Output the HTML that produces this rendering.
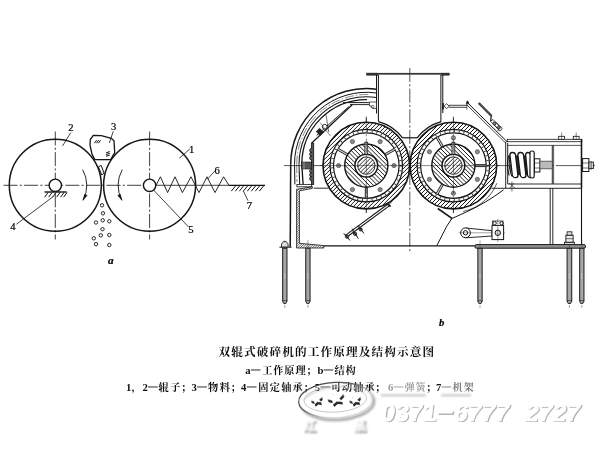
<!DOCTYPE html>
<html><head><meta charset="utf-8"><title>双辊式破碎机的工作原理及结构示意图</title>
<style>html,body{margin:0;padding:0;background:#fff;}body{width:600px;height:450px;overflow:hidden;font-family:"Liberation Serif",serif;}svg{display:block}</style>
</head><body>
<svg width="600" height="450" viewBox="0 0 600 450">
<defs>
<pattern id="h1" width="3" height="3" patternUnits="userSpaceOnUse" patternTransform="rotate(-45)"><rect width="3" height="3" fill="#fff"/><line x1="0" y1="0" x2="3" y2="0" stroke="#1a1a1a" stroke-width="1.5"/></pattern>
<pattern id="h2" width="2.6" height="2.6" patternUnits="userSpaceOnUse" patternTransform="rotate(-45)"><rect width="2.6" height="2.6" fill="#fff"/><line x1="0" y1="0" x2="2.6" y2="0" stroke="#1a1a1a" stroke-width="1.3"/></pattern>
<pattern id="h3" width="2.2" height="2.2" patternUnits="userSpaceOnUse" patternTransform="rotate(-45)"><rect width="2.2" height="2.2" fill="#fff"/><line x1="0" y1="0" x2="2.2" y2="0" stroke="#222" stroke-width="1.0"/></pattern>
<filter id="bl" x="-5%" y="-5%" width="110%" height="110%"><feGaussianBlur stdDeviation="0.35"/></filter>
<filter id="bl3" x="-5%" y="-10%" width="110%" height="120%"><feGaussianBlur stdDeviation="0.5"/></filter>
<filter id="bl2" x="-10%" y="-10%" width="120%" height="120%"><feGaussianBlur stdDeviation="0.8"/></filter>
</defs>
<rect x="0" y="0" width="600" height="450" fill="#fff"/>
<g id="figa" filter="url(#bl)">
<line x1="3.50" y1="185.30" x2="150.00" y2="185.30" stroke="#141414" stroke-width="0.8" stroke-dasharray="14 2.2 2.2 2.2"/>
<line x1="156.00" y1="185.30" x2="229.00" y2="185.30" stroke="#141414" stroke-width="0.8" />
<line x1="55.30" y1="131.50" x2="55.30" y2="239.50" stroke="#141414" stroke-width="0.8" stroke-dasharray="14 2.2 2.2 2.2"/>
<line x1="149.60" y1="131.50" x2="149.60" y2="239.50" stroke="#141414" stroke-width="0.8" stroke-dasharray="14 2.2 2.2 2.2"/>
<circle cx="55.30" cy="185.30" r="46.00" stroke="#141414" stroke-width="1.5" fill="none" />
<circle cx="149.60" cy="185.30" r="46.00" stroke="#141414" stroke-width="1.5" fill="none" />
<circle cx="55.30" cy="185.30" r="6.20" stroke="#141414" stroke-width="1.4" fill="#fff" />
<circle cx="149.60" cy="185.30" r="6.20" stroke="#141414" stroke-width="1.4" fill="#fff" />
<line x1="44.50" y1="192.00" x2="66.70" y2="192.00" stroke="#141414" stroke-width="1.4" />
<line x1="48.00" y1="192.60" x2="44.60" y2="197.20" stroke="#141414" stroke-width="1.0" />
<line x1="52.00" y1="192.60" x2="48.60" y2="197.20" stroke="#141414" stroke-width="1.0" />
<line x1="56.00" y1="192.60" x2="52.60" y2="197.20" stroke="#141414" stroke-width="1.0" />
<line x1="60.00" y1="192.60" x2="56.60" y2="197.20" stroke="#141414" stroke-width="1.0" />
<line x1="64.00" y1="192.60" x2="60.60" y2="197.20" stroke="#141414" stroke-width="1.0" />
<line x1="67.00" y1="192.60" x2="63.60" y2="197.20" stroke="#141414" stroke-width="1.0" />
<path d="M156.00 185.40 L160.40 176.80 L167.60 192.60 L175.00 176.80 L182.40 192.60 L191.00 176.80 L199.00 192.60 L207.00 176.80 L215.00 192.60 L223.60 176.80 L229.00 185.40" stroke="#141414" stroke-width="0.9" fill="none" />
<line x1="229.00" y1="185.40" x2="265.00" y2="185.40" stroke="#141414" stroke-width="1.4" />
<line x1="235.50" y1="186.00" x2="231.30" y2="191.20" stroke="#141414" stroke-width="1.0" />
<line x1="239.50" y1="186.00" x2="235.30" y2="191.20" stroke="#141414" stroke-width="1.0" />
<line x1="243.50" y1="186.00" x2="239.30" y2="191.20" stroke="#141414" stroke-width="1.0" />
<line x1="247.50" y1="186.00" x2="243.30" y2="191.20" stroke="#141414" stroke-width="1.0" />
<line x1="251.50" y1="186.00" x2="247.30" y2="191.20" stroke="#141414" stroke-width="1.0" />
<line x1="255.50" y1="186.00" x2="251.30" y2="191.20" stroke="#141414" stroke-width="1.0" />
<line x1="259.50" y1="186.00" x2="255.30" y2="191.20" stroke="#141414" stroke-width="1.0" />
<line x1="263.50" y1="186.00" x2="259.30" y2="191.20" stroke="#141414" stroke-width="1.0" />
<path d="M93.30 135.30 L90.30 139.50 L90.00 145.30 L92.00 154.00 L94.70 159.60 L110.70 159.60 L114.70 152.70 L114.00 140.70 L111.30 138.30 L101.30 135.60 Z" stroke="#141414" stroke-width="1.3" fill="#fff" />
<line x1="94.40" y1="143.20" x2="96.60" y2="140.20" stroke="#141414" stroke-width="1.0" />
<line x1="96.40" y1="143.20" x2="98.60" y2="140.20" stroke="#141414" stroke-width="1.0" />
<line x1="98.40" y1="143.20" x2="100.60" y2="140.20" stroke="#141414" stroke-width="1.0" />
<line x1="106.00" y1="152.80" x2="109.80" y2="151.60" stroke="#141414" stroke-width="1.0" />
<line x1="106.00" y1="154.50" x2="109.80" y2="153.30" stroke="#141414" stroke-width="1.0" />
<line x1="106.00" y1="156.20" x2="109.80" y2="155.00" stroke="#141414" stroke-width="1.0" />
<path d="M98.40 166.80 L101.20 165.40 L104.00 173.20 L101.80 175.00 Z" stroke="#141414" stroke-width="1.0" fill="#fff" />
<path d="M82.58 169.55 A31.5 31.5 0 0 1 83.11 200.09" stroke="#141414" stroke-width="0.9" fill="none" />
<path d="M82.88 200.53 L84.61 194.09 L87.25 195.49 Z" stroke="#141414" stroke-width="0.3" fill="#141414" />
<path d="M122.32 169.55 A31.5 31.5 0 0 0 121.79 200.09" stroke="#141414" stroke-width="0.9" fill="none" />
<path d="M122.02 200.53 L117.65 195.49 L120.29 194.09 Z" stroke="#141414" stroke-width="0.3" fill="#141414" />
<circle cx="102.00" cy="205.30" r="1.70" stroke="#141414" stroke-width="0.9" fill="none" />
<circle cx="103.00" cy="213.30" r="1.70" stroke="#141414" stroke-width="0.9" fill="none" />
<circle cx="102.70" cy="220.30" r="1.70" stroke="#141414" stroke-width="0.9" fill="none" />
<circle cx="96.00" cy="222.50" r="1.70" stroke="#141414" stroke-width="0.9" fill="none" />
<circle cx="109.30" cy="221.30" r="1.70" stroke="#141414" stroke-width="0.9" fill="none" />
<circle cx="102.50" cy="229.20" r="1.70" stroke="#141414" stroke-width="0.9" fill="none" />
<circle cx="100.80" cy="235.30" r="1.70" stroke="#141414" stroke-width="0.9" fill="none" />
<circle cx="109.30" cy="235.00" r="1.70" stroke="#141414" stroke-width="0.9" fill="none" />
<circle cx="93.80" cy="238.30" r="1.70" stroke="#141414" stroke-width="0.9" fill="none" />
<circle cx="96.00" cy="244.20" r="1.70" stroke="#141414" stroke-width="0.9" fill="none" />
<circle cx="109.30" cy="245.00" r="1.70" stroke="#141414" stroke-width="0.9" fill="none" />
<line x1="70.80" y1="132.60" x2="62.60" y2="145.90" stroke="#141414" stroke-width="0.8" />
<line x1="113.30" y1="131.20" x2="109.30" y2="143.00" stroke="#141414" stroke-width="0.8" />
<line x1="189.80" y1="149.00" x2="179.30" y2="158.30" stroke="#141414" stroke-width="0.8" />
<line x1="214.80" y1="171.00" x2="207.30" y2="179.30" stroke="#141414" stroke-width="0.8" />
<line x1="243.40" y1="191.00" x2="248.00" y2="200.70" stroke="#141414" stroke-width="0.8" />
<line x1="153.50" y1="190.00" x2="188.60" y2="227.00" stroke="#141414" stroke-width="0.8" />
<line x1="53.30" y1="196.50" x2="16.50" y2="224.20" stroke="#141414" stroke-width="0.8" />
<text x="71" y="130.9" font-family="Liberation Serif, serif" font-size="10.6" text-anchor="middle" fill="#000" stroke="#000" stroke-width="0.22" >2</text>
<text x="113.6" y="129.7" font-family="Liberation Serif, serif" font-size="10.6" text-anchor="middle" fill="#000" stroke="#000" stroke-width="0.22" >3</text>
<text x="191.6" y="152.6" font-family="Liberation Serif, serif" font-size="10.6" text-anchor="middle" fill="#000" stroke="#000" stroke-width="0.22" >1</text>
<text x="217.2" y="173.6" font-family="Liberation Serif, serif" font-size="10.6" text-anchor="middle" fill="#000" stroke="#000" stroke-width="0.22" >6</text>
<text x="249.3" y="209.1" font-family="Liberation Serif, serif" font-size="10.6" text-anchor="middle" fill="#000" stroke="#000" stroke-width="0.22" >7</text>
<text x="191" y="233.1" font-family="Liberation Serif, serif" font-size="10.6" text-anchor="middle" fill="#000" stroke="#000" stroke-width="0.22" >5</text>
<text x="12.8" y="229.6" font-family="Liberation Serif, serif" font-size="10.6" text-anchor="middle" fill="#000" stroke="#000" stroke-width="0.22" >4</text>
<text x="110.8" y="264.1" font-family="Liberation Serif, serif" font-size="11.2" text-anchor="middle" fill="#000" stroke="#000" stroke-width="0.22" font-style="italic" font-weight="bold">a</text>
<text x="441.6" y="325.8" font-family="Liberation Serif, serif" font-size="10.6" text-anchor="middle" fill="#000" stroke="#000" stroke-width="0.22" font-style="italic" font-weight="bold">b</text>
</g>
<g id="figb" filter="url(#bl)">
<line x1="284.00" y1="165.60" x2="595.00" y2="165.60" stroke="#141414" stroke-width="0.7" stroke-dasharray="62 2 2 2"/>
<line x1="366.30" y1="116.50" x2="366.30" y2="215.00" stroke="#141414" stroke-width="0.7" stroke-dasharray="14 2.2 2.2 2.2"/>
<line x1="453.40" y1="116.50" x2="453.40" y2="215.00" stroke="#141414" stroke-width="0.7" stroke-dasharray="14 2.2 2.2 2.2"/>
<line x1="409.80" y1="68.00" x2="409.80" y2="253.00" stroke="#141414" stroke-width="0.7" stroke-dasharray="14 2.2 2.2 2.2"/>
<path d="M290.70 164.30 A75.8 75.8 0 0 1 376.40 89.15" stroke="#141414" stroke-width="1.5" fill="none" />
<path d="M294.50 164.30 A72.0 72.0 0 0 1 376.40 92.98" stroke="#141414" stroke-width="1.0" fill="none" />
<line x1="294.50" y1="164.30" x2="294.90" y2="184.40" stroke="#141414" stroke-width="1.0" />
<path d="M296.70 164.30 A69.8 69.8 0 0 1 370.00 94.59" stroke="#141414" stroke-width="0.5" fill="none" stroke-dasharray="9 2 1.6 2"/>
<line x1="296.70" y1="164.30" x2="296.90" y2="182.00" stroke="#141414" stroke-width="0.5" stroke-dasharray="9 2 1.6 2"/>
<path d="M299.00 164.30 A67.5 67.5 0 0 1 376.40 97.53" stroke="#141414" stroke-width="1.05" fill="none" />
<line x1="299.00" y1="164.30" x2="299.70" y2="184.40" stroke="#141414" stroke-width="1.05" />
<path d="M301.80 164.30 A64.7 64.7 0 0 1 367.00 99.60" stroke="#141414" stroke-width="1.3" fill="none" />
<line x1="301.80" y1="164.30" x2="303.10" y2="184.40" stroke="#141414" stroke-width="1.3" />
<line x1="290.70" y1="164.30" x2="290.20" y2="247.00" stroke="#141414" stroke-width="1.5" />
<line x1="343.00" y1="102.60" x2="369.00" y2="102.60" stroke="#141414" stroke-width="1.0" />
<line x1="350.00" y1="104.60" x2="369.00" y2="104.60" stroke="#141414" stroke-width="0.9" />
<line x1="352.20" y1="104.80" x2="311.50" y2="143.20" stroke="#141414" stroke-width="1.2" />
<line x1="348.70" y1="106.70" x2="316.70" y2="135.30" stroke="#141414" stroke-width="0.9" />
<path d="M316.20 131.50 L319.60 128.20 L323.40 132.20 L320.00 135.50 Z" stroke="#141414" stroke-width="0.6" fill="#222" />
<circle cx="324.70" cy="126.80" r="2.40" stroke="#141414" stroke-width="0.9" fill="#fff" />
<line x1="326.00" y1="114.70" x2="328.70" y2="132.00" stroke="#141414" stroke-width="0.6" />
<line x1="320.00" y1="122.50" x2="330.50" y2="136.00" stroke="#141414" stroke-width="0.5" />
<rect x="311.60" y="143.20" width="2.10" height="41.20" stroke="#141414" stroke-width="0.8" fill="#555" />
<path d="M311.6 148.5 a1.9 1.9 0 0 0 0 3.8 a1.9 1.9 0 0 0 0 3.8 a1.9 1.9 0 0 0 0 3.8 M311.6 169.2 a1.9 1.9 0 0 0 0 3.8 a1.9 1.9 0 0 0 0 3.8 a1.9 1.9 0 0 0 0 3.8" stroke="#141414" stroke-width="1.0" fill="#777" />
<rect x="301.80" y="162.00" width="9.80" height="7.00" stroke="#141414" stroke-width="0.6" fill="#555" />
<line x1="304.00" y1="162.00" x2="304.00" y2="169.00" stroke="#ddd" stroke-width="0.5" />
<rect x="296.90" y="184.40" width="14.80" height="2.40" stroke="#141414" stroke-width="0.8" fill="#fff" />
<line x1="313.70" y1="188.20" x2="328.50" y2="188.20" stroke="#141414" stroke-width="0.9" />
<clipPath id="cp1"><path d="M296.60 189.30 L312.30 186.70 L312.30 188.40 L299.40 190.80 L299.40 243.30 L323.80 245.60 L323.80 248.00 L296.60 248.00 Z"/></clipPath>
<path clip-path="url(#cp1)" d="M295.6 187.7L297.6 185.7 M295.6 190.1L300.0 185.7 M295.6 192.5L302.4 185.7 M295.6 194.9L304.8 185.7 M295.6 197.3L307.2 185.7 M295.6 199.7L309.6 185.7 M295.6 202.1L312.0 185.7 M295.6 204.5L314.4 185.7 M295.6 206.9L316.8 185.7 M295.6 209.3L319.2 185.7 M295.6 211.7L321.6 185.7 M295.6 214.1L324.0 185.7 M295.6 216.5L326.4 185.7 M295.6 218.9L328.8 185.7 M295.6 221.3L331.2 185.7 M295.6 223.7L333.6 185.7 M295.6 226.1L336.0 185.7 M295.6 228.5L338.4 185.7 M295.6 230.9L340.8 185.7 M295.6 233.3L343.2 185.7 M295.6 235.7L345.6 185.7 M295.6 238.1L348.0 185.7 M295.6 240.5L350.4 185.7 M295.6 242.9L352.8 185.7 M295.6 245.3L355.2 185.7 M295.6 247.7L357.6 185.7 M295.6 250.1L360.0 185.7 M295.6 252.5L362.4 185.7 M295.6 254.9L364.8 185.7 M295.6 257.3L367.2 185.7 M295.6 259.7L369.6 185.7 M295.6 262.1L372.0 185.7 M295.6 264.5L374.4 185.7 M295.6 266.9L376.8 185.7 M295.6 269.3L379.2 185.7 M295.6 271.7L381.6 185.7 M295.6 274.1L384.0 185.7" stroke="#222" stroke-width="0.7" fill="none"/>
<path d="M296.60 189.30 L312.30 186.70 L312.30 188.40 L299.40 190.80 L299.40 243.30 L323.80 245.60 L323.80 248.00 L296.60 248.00 Z" stroke="#141414" stroke-width="0.8" fill="none" />
<line x1="279.40" y1="247.20" x2="291.60" y2="247.20" stroke="#141414" stroke-width="1.0" />
<line x1="323.80" y1="245.80" x2="475.00" y2="245.80" stroke="#141414" stroke-width="1.2" />
<rect x="475" y="244.6" width="110.4" height="3.6" rx="1.2" fill="#8e8e8e" stroke="#1a1a1a" stroke-width="1.0"/>
<rect x="366.50" y="73.00" width="82.90" height="1.60" stroke="#3a3a3a" stroke-width="0.2" fill="#3a3a3a" />
<rect x="366.50" y="73.00" width="11.50" height="2.50" stroke="#333" stroke-width="0.2" fill="#333" />
<rect x="441.00" y="73.00" width="8.40" height="2.50" stroke="#333" stroke-width="0.2" fill="#333" />
<line x1="376.50" y1="75.00" x2="376.50" y2="113.50" stroke="#141414" stroke-width="1.0" />
<line x1="378.40" y1="75.00" x2="378.40" y2="121.80" stroke="#141414" stroke-width="1.0" />
<line x1="440.90" y1="75.00" x2="440.90" y2="121.80" stroke="#141414" stroke-width="1.0" />
<line x1="442.80" y1="75.00" x2="442.80" y2="113.00" stroke="#141414" stroke-width="1.0" />
<path d="M378.51 121.56 A45.7 45.7 0 0 1 402.56 137.78" stroke="#141414" stroke-width="1.25" fill="none" />
<path d="M441.19 121.56 A45.7 45.7 0 0 0 417.14 137.78" stroke="#141414" stroke-width="1.25" fill="none" />
<line x1="402.40" y1="137.80" x2="417.30" y2="137.80" stroke="#141414" stroke-width="1.2" />
<path d="M369.50 102.00 L376.40 102.00 L376.40 108.50 L372.50 108.50 L371.00 106.00 L369.50 106.00 Z" stroke="#141414" stroke-width="0.7" fill="#fff" />
<circle cx="372.60" cy="106.60" r="1.30" stroke="#141414" stroke-width="0.6" fill="none" />
<path d="M444.00 106.20 L446.60 103.80 L449.30 106.20 L446.60 108.60 Z" stroke="#141414" stroke-width="0.8" fill="#fff" />
<line x1="443.00" y1="103.00" x2="443.00" y2="109.50" stroke="#141414" stroke-width="1.6" />
<line x1="449.00" y1="105.30" x2="468.00" y2="105.30" stroke="#141414" stroke-width="0.8" />
<line x1="449.00" y1="107.30" x2="467.00" y2="107.30" stroke="#141414" stroke-width="0.8" />
<path d="M466.20 103.60 L467.60 100.80 L469.00 103.60 Z" stroke="#141414" stroke-width="0.6" fill="#141414" />
<line x1="468.00" y1="103.20" x2="507.20" y2="141.80" stroke="#141414" stroke-width="1.0" />
<line x1="466.60" y1="104.60" x2="505.60" y2="143.00" stroke="#141414" stroke-width="0.8" />
<line x1="466.80" y1="101.00" x2="466.80" y2="110.00" stroke="#141414" stroke-width="0.5" />
<line x1="478.70" y1="103.00" x2="491.60" y2="116.00" stroke="#222" stroke-width="2.3" />
<line x1="478.90" y1="103.20" x2="491.40" y2="115.80" stroke="#bbb" stroke-width="0.5" />
<line x1="491.30" y1="116.00" x2="490.70" y2="121.00" stroke="#141414" stroke-width="1.2" />
<path d="M490.50 121.20 L493.00 119.50 L502.30 128.80 L500.00 131.20 Z" stroke="#141414" stroke-width="0.8" fill="#fff" />
<circle cx="494.40" cy="123.40" r="1.50" stroke="#141414" stroke-width="0.9" fill="#999" />
<line x1="496.20" y1="122.60" x2="500.20" y2="126.80" stroke="#141414" stroke-width="1.0" />
<line x1="494.60" y1="125.20" x2="498.40" y2="129.20" stroke="#141414" stroke-width="1.0" />
<circle cx="498.60" cy="127.60" r="1.20" stroke="#141414" stroke-width="0.8" fill="#888" />
<line x1="497.00" y1="131.50" x2="502.00" y2="126.50" stroke="#141414" stroke-width="0.6" />
<line x1="505.70" y1="141.70" x2="505.70" y2="188.30" stroke="#141414" stroke-width="0.9" />
<line x1="507.70" y1="143.00" x2="507.70" y2="184.00" stroke="#141414" stroke-width="0.9" />
<rect x="507.30" y="139.30" width="74.50" height="2.40" stroke="#141414" stroke-width="0.8" fill="#fff" />
<line x1="507.70" y1="145.40" x2="581.00" y2="145.40" stroke="#141414" stroke-width="0.7" />
<line x1="507.70" y1="184.00" x2="581.00" y2="184.00" stroke="#141414" stroke-width="0.9" />
<line x1="491.50" y1="188.30" x2="582.00" y2="188.30" stroke="#141414" stroke-width="0.9" />
<line x1="581.50" y1="139.30" x2="581.50" y2="188.30" stroke="#141414" stroke-width="1.6" />
<line x1="581.50" y1="188.30" x2="581.50" y2="244.60" stroke="#141414" stroke-width="1.1" />
<line x1="552.30" y1="145.40" x2="552.30" y2="183.80" stroke="#141414" stroke-width="0.9" />
<line x1="553.60" y1="145.40" x2="553.60" y2="183.80" stroke="#141414" stroke-width="0.7" />
<line x1="550.20" y1="188.30" x2="550.20" y2="244.20" stroke="#141414" stroke-width="0.9" />
<line x1="552.80" y1="188.30" x2="552.80" y2="244.20" stroke="#141414" stroke-width="0.9" />
<line x1="511.90" y1="181.50" x2="511.90" y2="191.50" stroke="#141414" stroke-width="0.6" />
<line x1="509.00" y1="183.00" x2="515.50" y2="188.50" stroke="#141414" stroke-width="0.6" />
<line x1="509.50" y1="188.50" x2="514.00" y2="183.00" stroke="#141414" stroke-width="0.5" />
<rect x="558.70" y="136.30" width="5.80" height="3.00" stroke="#141414" stroke-width="0.8" fill="#fff" />
<line x1="561.60" y1="132.50" x2="561.60" y2="139.30" stroke="#141414" stroke-width="0.5" />
<rect x="573.30" y="136.30" width="5.80" height="3.00" stroke="#141414" stroke-width="0.8" fill="#fff" />
<line x1="576.20" y1="132.50" x2="576.20" y2="139.30" stroke="#141414" stroke-width="0.5" />
<rect transform="translate(512.50 155.50) skewX(8.75)" x="0" y="0" width="16" height="19.50" rx="2.6" ry="2.6" fill="#2a2a2a" stroke="#141414" stroke-width="0.2"/>
<path d="M508.6 155.5 q-2.6 9.5 0.6 20" stroke="#141414" stroke-width="1.1" fill="none" />
<path d="M510.2 154.5 q-2.8 10 1.6 22" stroke="#141414" stroke-width="1.0" fill="none" />
<path d="M509 159 q2.4 6 1.4 13" stroke="#141414" stroke-width="0.7" fill="none" />
<rect transform="translate(509.60 152.50) skewX(6.82)" x="0" y="0" width="5.6" height="25.10" rx="2.6" ry="2.6" fill="#fff" stroke="#141414" stroke-width="1.3"/>
<rect transform="translate(517.60 152.50) skewX(6.82)" x="0" y="0" width="5.6" height="25.10" rx="2.6" ry="2.6" fill="#fff" stroke="#141414" stroke-width="1.3"/>
<rect transform="translate(525.40 152.50) skewX(5.46)" x="0" y="0" width="5.0" height="25.10" rx="2.6" ry="2.6" fill="#fff" stroke="#141414" stroke-width="1.3"/>
<rect x="530" y="151" width="4.2" height="27" rx="1.8" ry="1.8" fill="#fff" stroke="#141414" stroke-width="1.2"/>
<rect x="534.50" y="158.80" width="5.40" height="13.20" stroke="#141414" stroke-width="1.0" fill="#fff" />
<line x1="534.50" y1="163.00" x2="539.90" y2="163.00" stroke="#141414" stroke-width="0.6" />
<line x1="534.50" y1="168.00" x2="539.90" y2="168.00" stroke="#141414" stroke-width="0.6" />
<rect x="539.90" y="161.20" width="12.40" height="7.60" stroke="#444" stroke-width="0.8" fill="#bbb" />
<rect x="582.60" y="158.60" width="6.30" height="12.90" stroke="#141414" stroke-width="1.0" fill="#fff" />
<line x1="582.60" y1="163.00" x2="588.90" y2="163.00" stroke="#141414" stroke-width="0.6" />
<line x1="582.60" y1="168.00" x2="588.90" y2="168.00" stroke="#141414" stroke-width="0.6" />
<rect x="588.90" y="162.00" width="4.60" height="6.60" stroke="#141414" stroke-width="0.8" fill="#ccc" />
<line x1="591.20" y1="161.00" x2="591.20" y2="170.00" stroke="#141414" stroke-width="0.5" />
<path d="M503.6 189.8 Q486 203 466.3 212 T452 218.3 L446.7 226.3 L436.9 245.5" stroke="#141414" stroke-width="1.0" fill="none" />
<line x1="437.80" y1="208.50" x2="452.00" y2="218.30" stroke="#141414" stroke-width="1.6" />
<path d="M496.88 183.17 A46.9 46.9 0 0 1 463.15 211.48" stroke="#141414" stroke-width="0.7" fill="none" />
<line x1="388.40" y1="203.80" x2="345.40" y2="235.40" stroke="#141414" stroke-width="1.1" />
<line x1="389.60" y1="205.60" x2="346.60" y2="237.20" stroke="#141414" stroke-width="1.1" />
<line x1="400.00" y1="191.70" x2="388.50" y2="205.20" stroke="#141414" stroke-width="0.9" />
<line x1="386.80" y1="203.00" x2="390.60" y2="206.60" stroke="#141414" stroke-width="1.6" />
<circle cx="347.00" cy="236.60" r="1.60" stroke="#141414" stroke-width="0.9" fill="#888" />
<line x1="344.50" y1="233.60" x2="349.50" y2="239.60" stroke="#141414" stroke-width="0.7" />
<circle cx="355.00" cy="233.80" r="1.60" stroke="#141414" stroke-width="0.9" fill="#888" />
<line x1="352.50" y1="230.80" x2="357.50" y2="236.80" stroke="#141414" stroke-width="0.7" />
<circle cx="360.60" cy="229.40" r="1.60" stroke="#141414" stroke-width="0.9" fill="#888" />
<line x1="358.10" y1="226.40" x2="363.10" y2="232.40" stroke="#141414" stroke-width="0.7" />
<line x1="343.50" y1="233.50" x2="350.00" y2="240.50" stroke="#141414" stroke-width="0.8" />
<line x1="352.00" y1="228.50" x2="358.50" y2="239.00" stroke="#141414" stroke-width="0.8" />
<line x1="358.00" y1="225.00" x2="364.00" y2="233.50" stroke="#141414" stroke-width="0.8" />
<path d="M465.90 228.00 L492.00 230.70 L492.00 236.00 L465.90 237.80 Z" stroke="#141414" stroke-width="0.9" fill="#fff" />
<circle cx="465.50" cy="232.80" r="4.90" stroke="#141414" stroke-width="1.0" fill="#fff" />
<circle cx="465.50" cy="232.80" r="2.20" stroke="#141414" stroke-width="1.0" fill="#fff" />
<line x1="459.00" y1="232.80" x2="505.00" y2="232.80" stroke="#141414" stroke-width="0.4" />
<rect x="492.00" y="225.40" width="11.60" height="14.20" stroke="#141414" stroke-width="1.0" fill="#fff" />
<circle cx="497.80" cy="232.80" r="2.70" stroke="#141414" stroke-width="1.0" fill="#ddd" />
<rect x="492.60" y="221.00" width="10.40" height="4.40" stroke="#141414" stroke-width="0.7" fill="#fff" />
<circle cx="494.60" cy="223.20" r="1.70" stroke="#141414" stroke-width="0.9" fill="none" />
<circle cx="501.60" cy="223.20" r="1.70" stroke="#141414" stroke-width="0.9" fill="none" />
<line x1="497.80" y1="219.00" x2="497.80" y2="242.00" stroke="#141414" stroke-width="0.4" />
<circle cx="366.30" cy="165.60" r="43.40" stroke="none" stroke-width="0.1" fill="#fff" />
<path d="M329.8 142.1L342.8 129.1 M325.7 150.2L350.9 125.0 M324.0 155.9L356.6 123.3 M323.2 160.7L333.2 150.7 M351.4 132.5L361.4 122.5 M322.9 165.0L331.1 156.8 M357.5 130.4L365.7 122.2 M323.0 168.9L330.2 161.7 M362.4 129.5L369.6 122.3 M323.4 172.5L330.0 165.9 M366.6 129.3L373.2 122.7 M324.1 175.8L330.2 169.7 M370.4 129.5L376.5 123.4 M325.0 178.9L330.8 173.1 M373.8 130.1L379.6 124.3 M326.1 181.8L331.6 176.3 M377.0 130.9L382.5 125.4 M327.3 184.6L332.7 179.2 M379.9 132.0L385.3 126.6 M328.7 187.2L333.9 182.0 M382.7 133.2L387.9 128.0 M330.2 189.7L335.3 184.6 M385.3 134.6L390.4 129.5 M331.9 192.0L336.9 187.0 M387.7 136.2L392.7 131.2 M333.7 194.2L338.7 189.2 M389.9 138.0L394.9 133.0 M335.6 196.3L340.6 191.3 M392.0 139.9L397.0 134.9 M337.7 198.2L342.7 193.2 M393.9 142.0L398.9 137.0 M339.9 200.0L344.9 195.0 M395.7 144.2L400.7 139.2 M342.2 201.7L347.3 196.6 M397.3 146.6L402.4 141.5 M344.7 203.2L349.9 198.0 M398.7 149.2L403.9 144.0 M347.3 204.6L352.7 199.2 M399.9 152.0L405.3 146.6 M350.1 205.8L355.6 200.3 M401.0 154.9L406.5 149.4 M353.0 206.9L358.8 201.1 M401.8 158.1L407.6 152.3 M356.1 207.8L362.2 201.7 M402.4 161.5L408.5 155.4 M359.4 208.5L366.0 201.9 M402.6 165.3L409.2 158.7 M363.0 208.9L370.2 201.7 M402.4 169.5L409.6 162.3 M366.9 209.0L375.1 200.8 M401.5 174.4L409.7 166.2 M371.2 208.7L381.2 198.7 M399.4 180.5L409.4 170.5 M376.0 207.9L408.6 175.3 M381.7 206.2L406.9 181.0 M389.8 202.1L402.8 189.1" stroke="#1c1c1c" stroke-width="1.0" fill="none" />
<circle cx="366.30" cy="165.60" r="43.30" stroke="#141414" stroke-width="1.6" fill="none" />
<circle cx="366.30" cy="165.60" r="36.30" stroke="#141414" stroke-width="1.2" fill="none" />
<circle cx="366.30" cy="165.60" r="34.55" stroke="#2a2a2a" stroke-width="2.2" fill="none" stroke-dasharray="0.9 3.9"/>
<circle cx="366.30" cy="165.60" r="32.80" stroke="#141414" stroke-width="1.2" fill="none" />
<line x1="385.01" y1="154.80" x2="394.53" y2="149.30" stroke="#cfcfcf" stroke-width="2.2" />
<line x1="385.51" y1="155.67" x2="395.03" y2="150.17" stroke="#141414" stroke-width="0.9" />
<line x1="384.51" y1="153.93" x2="394.03" y2="148.43" stroke="#141414" stroke-width="0.9" />
<line x1="347.59" y1="154.80" x2="338.07" y2="149.30" stroke="#cfcfcf" stroke-width="2.2" />
<line x1="348.09" y1="153.93" x2="338.57" y2="148.43" stroke="#141414" stroke-width="0.9" />
<line x1="347.09" y1="155.67" x2="337.57" y2="150.17" stroke="#141414" stroke-width="0.9" />
<line x1="366.30" y1="187.20" x2="366.30" y2="198.20" stroke="#cfcfcf" stroke-width="2.2" />
<line x1="365.30" y1="187.20" x2="365.30" y2="198.20" stroke="#141414" stroke-width="0.9" />
<line x1="367.30" y1="187.20" x2="367.30" y2="198.20" stroke="#141414" stroke-width="0.9" />
<circle cx="394.00" cy="165.60" r="2.10" stroke="#555" stroke-width="0.8" fill="#8c8c8c" />
<circle cx="380.15" cy="141.61" r="2.10" stroke="#555" stroke-width="0.8" fill="#8c8c8c" />
<circle cx="352.45" cy="141.61" r="2.10" stroke="#555" stroke-width="0.8" fill="#8c8c8c" />
<circle cx="338.60" cy="165.60" r="2.10" stroke="#555" stroke-width="0.8" fill="#8c8c8c" />
<circle cx="352.45" cy="189.59" r="2.10" stroke="#555" stroke-width="0.8" fill="#8c8c8c" />
<circle cx="380.15" cy="189.59" r="2.10" stroke="#555" stroke-width="0.8" fill="#8c8c8c" />
<circle cx="366.30" cy="165.60" r="21.60" stroke="none" stroke-width="0.1" fill="#fff" />
<path d="M347.5 176.2L355.7 184.4 M345.1 169.6L362.3 186.8 M344.7 165.0L366.9 187.2 M345.1 161.2L370.7 186.8 M346.1 158.0L355.0 166.9 M365.0 176.9L373.9 185.8 M347.4 155.1L355.2 162.9 M369.0 176.7L376.8 184.5 M349.1 152.6L356.4 159.9 M372.0 175.5L379.3 182.8 M351.0 150.3L358.2 157.5 M374.4 173.7L381.6 180.9 M353.3 148.4L360.6 155.7 M376.2 171.3L383.5 178.6 M355.8 146.7L363.6 154.5 M377.4 168.3L385.2 176.1 M358.7 145.4L367.6 154.3 M377.6 164.3L386.5 173.2 M361.9 144.4L387.5 170.0 M365.7 144.0L387.9 166.2 M370.3 144.4L387.5 161.6 M376.9 146.8L385.1 155.0" stroke="#1c1c1c" stroke-width="1.0" fill="none" />
<circle cx="366.30" cy="165.60" r="21.60" stroke="#141414" stroke-width="1.4" fill="none" />
<circle cx="366.30" cy="165.60" r="11.40" stroke="#141414" stroke-width="1.5" fill="#fff" />
<path d="M358.2 162.5L363.2 157.5 M357.7 167.0L367.7 157.0 M358.8 169.9L370.6 158.1 M360.6 172.1L372.8 159.9 M363.0 173.7L374.4 162.3 M366.4 174.3L375.0 165.7" stroke="#1c1c1c" stroke-width="0.95" fill="none" />
<circle cx="366.30" cy="165.60" r="8.70" stroke="#141414" stroke-width="0.9" fill="none" />
<rect x="364.90" y="142.20" width="2.80" height="12.00" stroke="#141414" stroke-width="0.8" fill="#ddd" />
<line x1="364.90" y1="144.30" x2="367.70" y2="144.30" stroke="#141414" stroke-width="0.6" />
<circle cx="453.40" cy="165.60" r="43.40" stroke="none" stroke-width="0.1" fill="#fff" />
<path d="M416.9 142.1L429.9 129.1 M412.8 150.2L438.0 125.0 M411.1 155.9L443.7 123.3 M410.3 160.7L420.3 150.7 M438.5 132.5L448.5 122.5 M410.0 165.0L418.2 156.8 M444.6 130.4L452.8 122.2 M410.1 168.9L417.3 161.7 M449.5 129.5L456.7 122.3 M410.5 172.5L417.1 165.9 M453.7 129.3L460.3 122.7 M411.2 175.8L417.3 169.7 M457.5 129.5L463.6 123.4 M412.1 178.9L417.9 173.1 M460.9 130.1L466.7 124.3 M413.2 181.8L418.7 176.3 M464.1 130.9L469.6 125.4 M414.4 184.6L419.8 179.2 M467.0 132.0L472.4 126.6 M415.8 187.2L421.0 182.0 M469.8 133.2L475.0 128.0 M417.3 189.7L422.4 184.6 M472.4 134.6L477.5 129.5 M419.0 192.0L424.0 187.0 M474.8 136.2L479.8 131.2 M420.8 194.2L425.8 189.2 M477.0 138.0L482.0 133.0 M422.7 196.3L427.7 191.3 M479.1 139.9L484.1 134.9 M424.8 198.2L429.8 193.2 M481.0 142.0L486.0 137.0 M427.0 200.0L432.0 195.0 M482.8 144.2L487.8 139.2 M429.3 201.7L434.4 196.6 M484.4 146.6L489.5 141.5 M431.8 203.2L437.0 198.0 M485.8 149.2L491.0 144.0 M434.4 204.6L439.8 199.2 M487.0 152.0L492.4 146.6 M437.2 205.8L442.7 200.3 M488.1 154.9L493.6 149.4 M440.1 206.9L445.9 201.1 M488.9 158.1L494.7 152.3 M443.2 207.8L449.3 201.7 M489.5 161.5L495.6 155.4 M446.5 208.5L453.1 201.9 M489.7 165.3L496.3 158.7 M450.1 208.9L457.3 201.7 M489.5 169.5L496.7 162.3 M454.0 209.0L462.2 200.8 M488.6 174.4L496.8 166.2 M458.3 208.7L468.3 198.7 M486.5 180.5L496.5 170.5 M463.1 207.9L495.7 175.3 M468.8 206.2L494.0 181.0 M476.9 202.1L489.9 189.1" stroke="#1c1c1c" stroke-width="1.0" fill="none" />
<circle cx="453.40" cy="165.60" r="43.30" stroke="#141414" stroke-width="1.6" fill="none" />
<circle cx="453.40" cy="165.60" r="36.30" stroke="#141414" stroke-width="1.2" fill="none" />
<circle cx="453.40" cy="165.60" r="34.55" stroke="#2a2a2a" stroke-width="2.2" fill="none" stroke-dasharray="0.9 3.9"/>
<circle cx="453.40" cy="165.60" r="32.80" stroke="#141414" stroke-width="1.2" fill="none" />
<line x1="475.00" y1="165.60" x2="486.00" y2="165.60" stroke="#cfcfcf" stroke-width="2.2" />
<line x1="475.00" y1="166.60" x2="486.00" y2="166.60" stroke="#141414" stroke-width="0.9" />
<line x1="475.00" y1="164.60" x2="486.00" y2="164.60" stroke="#141414" stroke-width="0.9" />
<line x1="442.60" y1="146.89" x2="437.10" y2="137.37" stroke="#cfcfcf" stroke-width="2.2" />
<line x1="443.47" y1="146.39" x2="437.97" y2="136.87" stroke="#141414" stroke-width="0.9" />
<line x1="441.73" y1="147.39" x2="436.23" y2="137.87" stroke="#141414" stroke-width="0.9" />
<line x1="442.60" y1="184.31" x2="437.10" y2="193.83" stroke="#cfcfcf" stroke-width="2.2" />
<line x1="441.73" y1="183.81" x2="436.23" y2="193.33" stroke="#141414" stroke-width="0.9" />
<line x1="443.47" y1="184.81" x2="437.97" y2="194.33" stroke="#141414" stroke-width="0.9" />
<circle cx="477.39" cy="151.75" r="2.10" stroke="#555" stroke-width="0.8" fill="#8c8c8c" />
<circle cx="453.40" cy="137.90" r="2.10" stroke="#555" stroke-width="0.8" fill="#8c8c8c" />
<circle cx="429.41" cy="151.75" r="2.10" stroke="#555" stroke-width="0.8" fill="#8c8c8c" />
<circle cx="429.41" cy="179.45" r="2.10" stroke="#555" stroke-width="0.8" fill="#8c8c8c" />
<circle cx="453.40" cy="193.30" r="2.10" stroke="#555" stroke-width="0.8" fill="#8c8c8c" />
<circle cx="477.39" cy="179.45" r="2.10" stroke="#555" stroke-width="0.8" fill="#8c8c8c" />
<circle cx="453.40" cy="165.60" r="21.60" stroke="none" stroke-width="0.1" fill="#fff" />
<path d="M434.6 176.2L442.8 184.4 M432.2 169.6L449.4 186.8 M431.8 165.0L454.0 187.2 M432.2 161.2L457.8 186.8 M433.2 158.0L442.1 166.9 M452.1 176.9L461.0 185.8 M434.5 155.1L442.3 162.9 M456.1 176.7L463.9 184.5 M436.2 152.6L443.5 159.9 M459.1 175.5L466.4 182.8 M438.1 150.3L445.3 157.5 M461.5 173.7L468.7 180.9 M440.4 148.4L447.7 155.7 M463.3 171.3L470.6 178.6 M442.9 146.7L450.7 154.5 M464.5 168.3L472.3 176.1 M445.8 145.4L454.7 154.3 M464.7 164.3L473.6 173.2 M449.0 144.4L474.6 170.0 M452.8 144.0L475.0 166.2 M457.4 144.4L474.6 161.6 M464.0 146.8L472.2 155.0" stroke="#1c1c1c" stroke-width="1.0" fill="none" />
<circle cx="453.40" cy="165.60" r="21.60" stroke="#141414" stroke-width="1.4" fill="none" />
<circle cx="453.40" cy="165.60" r="11.40" stroke="#141414" stroke-width="1.5" fill="#fff" />
<path d="M445.3 162.5L450.3 157.5 M444.8 167.0L454.8 157.0 M445.9 169.9L457.7 158.1 M447.7 172.1L459.9 159.9 M450.1 173.7L461.5 162.3 M453.5 174.3L462.1 165.7" stroke="#1c1c1c" stroke-width="0.95" fill="none" />
<circle cx="453.40" cy="165.60" r="8.70" stroke="#141414" stroke-width="0.9" fill="none" />
<rect x="452.00" y="142.20" width="2.80" height="12.00" stroke="#141414" stroke-width="0.8" fill="#ddd" />
<line x1="452.00" y1="144.30" x2="454.80" y2="144.30" stroke="#141414" stroke-width="0.6" />
<line x1="320.30" y1="165.60" x2="499.40" y2="165.60" stroke="#141414" stroke-width="0.5" stroke-dasharray="62 2 2 2"/>
<line x1="366.30" y1="118.00" x2="366.30" y2="213.00" stroke="#141414" stroke-width="0.5" stroke-dasharray="14 2.2 2.2 2.2"/>
<line x1="453.40" y1="118.00" x2="453.40" y2="213.00" stroke="#141414" stroke-width="0.5" stroke-dasharray="14 2.2 2.2 2.2"/>
<rect x="282.65" y="248.30" width="4.30" height="52.60" stroke="#2a2a2a" stroke-width="1.1" fill="#a6a6a6" />
<path d="M282.65 300.90 L283.65 303.40 L285.95 303.40 L286.95 300.90" stroke="#2a2a2a" stroke-width="1.0" fill="#a6a6a6" />
<line x1="284.80" y1="240.30" x2="284.80" y2="247.30" stroke="#444" stroke-width="0.5" />
<line x1="284.80" y1="304.90" x2="284.80" y2="307.90" stroke="#444" stroke-width="0.5" />
<line x1="284.80" y1="273.65" x2="284.80" y2="275.25" stroke="#eee" stroke-width="0.7" />
<line x1="284.80" y1="276.45" x2="284.80" y2="278.05" stroke="#eee" stroke-width="0.7" />
<rect x="305.75" y="248.30" width="4.30" height="52.60" stroke="#2a2a2a" stroke-width="1.1" fill="#a6a6a6" />
<path d="M305.75 300.90 L306.75 303.40 L309.05 303.40 L310.05 300.90" stroke="#2a2a2a" stroke-width="1.0" fill="#a6a6a6" />
<line x1="307.90" y1="240.30" x2="307.90" y2="247.30" stroke="#444" stroke-width="0.5" />
<line x1="307.90" y1="304.90" x2="307.90" y2="307.90" stroke="#444" stroke-width="0.5" />
<line x1="307.90" y1="273.65" x2="307.90" y2="275.25" stroke="#eee" stroke-width="0.7" />
<line x1="307.90" y1="276.45" x2="307.90" y2="278.05" stroke="#eee" stroke-width="0.7" />
<rect x="477.85" y="248.40" width="4.30" height="52.50" stroke="#2a2a2a" stroke-width="1.1" fill="#a6a6a6" />
<path d="M477.85 300.90 L478.85 303.40 L481.15 303.40 L482.15 300.90" stroke="#2a2a2a" stroke-width="1.0" fill="#a6a6a6" />
<line x1="480.00" y1="240.40" x2="480.00" y2="247.40" stroke="#444" stroke-width="0.5" />
<line x1="480.00" y1="304.90" x2="480.00" y2="307.90" stroke="#444" stroke-width="0.5" />
<line x1="480.00" y1="273.70" x2="480.00" y2="275.30" stroke="#eee" stroke-width="0.7" />
<line x1="480.00" y1="276.50" x2="480.00" y2="278.10" stroke="#eee" stroke-width="0.7" />
<rect x="567.10" y="248.40" width="4.60" height="52.50" stroke="#2a2a2a" stroke-width="1.1" fill="#a6a6a6" />
<path d="M567.10 300.90 L568.10 303.40 L570.70 303.40 L571.70 300.90" stroke="#2a2a2a" stroke-width="1.0" fill="#a6a6a6" />
<line x1="569.40" y1="240.40" x2="569.40" y2="247.40" stroke="#444" stroke-width="0.5" />
<line x1="569.40" y1="304.90" x2="569.40" y2="307.90" stroke="#444" stroke-width="0.5" />
<line x1="569.40" y1="273.70" x2="569.40" y2="275.30" stroke="#eee" stroke-width="0.7" />
<line x1="569.40" y1="276.50" x2="569.40" y2="278.10" stroke="#eee" stroke-width="0.7" />
<rect x="579.65" y="248.40" width="4.30" height="52.50" stroke="#2a2a2a" stroke-width="1.1" fill="#a6a6a6" />
<path d="M579.65 300.90 L580.65 303.40 L582.95 303.40 L583.95 300.90" stroke="#2a2a2a" stroke-width="1.0" fill="#a6a6a6" />
<line x1="581.80" y1="240.40" x2="581.80" y2="247.40" stroke="#444" stroke-width="0.5" />
<line x1="581.80" y1="304.90" x2="581.80" y2="307.90" stroke="#444" stroke-width="0.5" />
<line x1="581.80" y1="273.70" x2="581.80" y2="275.30" stroke="#eee" stroke-width="0.7" />
<line x1="581.80" y1="276.50" x2="581.80" y2="278.10" stroke="#eee" stroke-width="0.7" />
<path d="M281.50 247.00 L281.50 244.00 L283.30 241.60 L286.30 241.60 L288.10 244.00 L288.10 247.00 Z" stroke="#141414" stroke-width="0.8" fill="#ddd" />
<rect x="564.60" y="242.20" width="9.80" height="2.20" stroke="#141414" stroke-width="0.8" fill="#ddd" />
<rect x="565.90" y="235.20" width="7.20" height="7.00" stroke="#141414" stroke-width="0.9" fill="#eee" />
<rect x="567.10" y="231.80" width="4.80" height="3.40" stroke="#141414" stroke-width="0.8" fill="#ddd" />
<line x1="565.90" y1="238.70" x2="573.10" y2="238.70" stroke="#141414" stroke-width="0.6" />
</g>
<g filter="url(#bl2)">
<ellipse cx="337.8" cy="402.8" rx="36" ry="17" fill="none" stroke="#a9a9a9" stroke-width="3.0" transform="rotate(-3 335.6 400.2)"/>
<ellipse cx="335.6" cy="400.2" rx="34" ry="15.2" fill="none" stroke="#fff" stroke-width="4.2" transform="rotate(-3 335.6 400.2)"/>
</g>
<g id="txt" filter="url(#bl)">
<text y="355.60" x="218.60 231.35 244.10 256.85 269.60 282.35 295.10 307.85 320.60 333.35 346.10 358.85 371.60 384.35 397.10 409.85 422.60" font-family="Liberation Serif, Noto Serif CJK SC, serif" font-weight="bold" font-size="11.6" fill="#111">双辊式破碎机的工作原理及结构示意图</text>
<text x="245.20" y="373.60" font-family="Liberation Serif, serif" font-weight="bold" font-size="10.7" fill="#111">a</text>
<rect x="250.80" y="369.52" width="9.69" height="0.9" fill="#111"/>
<text y="373.60" x="262.20 273.30 284.30 295.40 306.20" font-family="Liberation Serif, Noto Serif CJK SC, serif" font-weight="bold" font-size="10.2" fill="#111">工作原理；</text>
<text x="317.60" y="373.60" font-family="Liberation Serif, serif" font-weight="bold" font-size="10.7" fill="#111">b</text>
<rect x="323.60" y="369.52" width="9.69" height="0.9" fill="#111"/>
<text y="373.60" x="334.50 345.50" font-family="Liberation Serif, Noto Serif CJK SC, serif" font-weight="bold" font-size="10.2" fill="#111">结构</text>
<text x="126.00" y="390.60" font-family="Liberation Serif, serif" font-weight="bold" font-size="10.7" fill="#111">1</text>
<text x="131.50" y="390.60" font-family="Liberation Serif, Noto Serif CJK SC, serif" font-weight="bold" font-size="10.2" fill="#111">，</text>
<text x="142.60" y="390.60" font-family="Liberation Serif, serif" font-weight="bold" font-size="10.7" fill="#111">2</text>
<rect x="148.00" y="386.52" width="9.69" height="0.9" fill="#111"/>
<text y="390.60" x="158.50 170.20 181.00" font-family="Liberation Serif, Noto Serif CJK SC, serif" font-weight="bold" font-size="10.2" fill="#111">辊子；</text>
<text x="191.40" y="390.60" font-family="Liberation Serif, serif" font-weight="bold" font-size="10.7" fill="#111">3</text>
<rect x="197.20" y="386.52" width="9.69" height="0.9" fill="#111"/>
<text y="390.60" x="208.00 219.80 230.60" font-family="Liberation Serif, Noto Serif CJK SC, serif" font-weight="bold" font-size="10.2" fill="#111">物料；</text>
<text x="241.00" y="390.60" font-family="Liberation Serif, serif" font-weight="bold" font-size="10.7" fill="#111">4</text>
<rect x="246.80" y="386.52" width="9.69" height="0.9" fill="#111"/>
<text y="390.60" x="258.30 269.80 281.30 292.60 303.60" font-family="Liberation Serif, Noto Serif CJK SC, serif" font-weight="bold" font-size="10.2" fill="#111">固定轴承；</text>
<text x="314.80" y="390.60" font-family="Liberation Serif, serif" font-weight="bold" font-size="10.7" fill="#111">5</text>
<rect x="320.40" y="386.52" width="9.69" height="0.9" fill="#111"/>
<text y="390.60" x="331.00 342.00 353.20 364.40 375.00" font-family="Liberation Serif, Noto Serif CJK SC, serif" font-weight="bold" font-size="10.2" fill="#111">可动轴承；</text>
<text x="388.00" y="390.60" font-family="Liberation Serif, serif" font-weight="bold" font-size="10.7" fill="#9a9a9a">6</text>
<rect x="393.60" y="386.52" width="9.69" height="0.9" fill="#9a9a9a"/>
<text y="390.60" x="404.50 415.50" font-family="Liberation Serif, Noto Serif CJK SC, serif" font-weight="bold" font-size="10.2" fill="#9a9a9a">弹簧</text>
<text x="426.00" y="390.60" font-family="Liberation Serif, Noto Serif CJK SC, serif" font-weight="bold" font-size="10.2" fill="#1a1a1a">；</text>
<text x="436.00" y="390.60" font-family="Liberation Serif, serif" font-weight="bold" font-size="10.7" fill="#1a1a1a">7</text>
<rect x="441.60" y="386.52" width="9.69" height="0.9" fill="#7a7a7a"/>
<text y="390.60" x="452.50 463.50" font-family="Liberation Serif, Noto Serif CJK SC, serif" font-weight="bold" font-size="10.2" fill="#7a7a7a">机架</text>
</g>
<g id="wm">
<ellipse cx="335.6" cy="400.2" rx="34" ry="15.2" fill="none" stroke="#fff" stroke-opacity="0.22" stroke-width="3.6" transform="rotate(-3 335.6 400.2)" filter="url(#bl2)"/>
<defs><linearGradient id="rim" x1="0" y1="0" x2="1" y2="1"><stop offset="0" stop-color="#3a3a3a"/><stop offset="0.42" stop-color="#5e5e5e"/><stop offset="0.62" stop-color="#c4c4c4"/><stop offset="1" stop-color="#e8e8e8"/></linearGradient></defs>
<g filter="url(#bl)">
<ellipse cx="335.6" cy="400.2" rx="37" ry="17.8" fill="none" stroke="url(#rim)" stroke-width="1.2" transform="rotate(-3 335.6 400.2)"/>
<ellipse cx="335.3" cy="399.4" rx="31.3" ry="12.7" fill="none" stroke="#b9b0b0" stroke-width="0.7" transform="rotate(-3 335.6 400.2)"/>
<path d="M322.45 396.86 L319.23 400.25 L321.37 402.53 L317.49 402.19 L315.05 404.32 L314.32 401.64 L310.66 400.67 L314.09 399.35 L314.28 396.62 L317.12 398.49 Z" fill="#2c2c2c"/>
<path d="M322.60 397.34 L319.38 400.73 L321.52 403.02 L317.64 402.67 L315.20 404.81 L314.47 402.12 L310.81 401.15 L314.24 399.83 L314.43 397.10 L317.27 398.98 Z" fill="#2c2c2c"/>
<path d="M322.75 397.83 L319.53 401.21 L321.67 403.50 L317.79 403.16 L315.35 405.29 L314.62 402.60 L310.96 401.63 L314.39 400.32 L314.58 397.59 L317.42 399.46 Z" fill="#2c2c2c"/>
<path d="M322.90 398.31 L319.68 401.70 L321.82 403.98 L317.94 403.64 L315.50 405.77 L314.77 403.09 L311.11 402.12 L314.54 400.80 L314.73 398.07 L317.57 399.94 Z" fill="#2c2c2c"/>
<path d="M323.05 398.79 L319.83 402.18 L321.97 404.47 L318.09 404.12 L315.65 406.26 L314.92 403.57 L311.26 402.60 L314.69 401.28 L314.88 398.55 L317.72 400.43 Z" fill="#2c2c2c"/>
<path d="M323.20 399.28 L319.98 402.66 L322.12 404.95 L318.24 404.61 L315.80 406.74 L315.07 404.05 L311.41 403.08 L314.84 401.77 L315.03 399.04 L317.87 400.91 Z" fill="#2c2c2c"/>
<path d="M322.30 396.38 L319.08 399.76 L321.22 402.05 L317.34 401.71 L314.90 403.84 L314.17 401.15 L310.51 400.18 L313.94 398.87 L314.13 396.14 L316.97 398.01 Z" fill="#fff" stroke="#fff" stroke-width="0.5"/>
<path d="M343.93 394.10 L339.38 398.89 L342.40 402.13 L336.92 401.64 L333.47 404.65 L332.43 400.85 L327.27 399.48 L332.11 397.62 L332.38 393.76 L336.40 396.41 Z" fill="#2c2c2c"/>
<path d="M344.08 394.59 L339.53 399.37 L342.55 402.61 L337.07 402.12 L333.62 405.14 L332.58 401.34 L327.42 399.97 L332.26 398.11 L332.53 394.24 L336.55 396.89 Z" fill="#2c2c2c"/>
<path d="M344.23 395.07 L339.68 399.86 L342.70 403.09 L337.22 402.60 L333.77 405.62 L332.73 401.82 L327.57 400.45 L332.41 398.59 L332.68 394.73 L336.70 397.38 Z" fill="#2c2c2c"/>
<path d="M344.38 395.55 L339.83 400.34 L342.85 403.58 L337.37 403.09 L333.92 406.10 L332.88 402.30 L327.72 400.93 L332.56 399.07 L332.83 395.21 L336.85 397.86 Z" fill="#2c2c2c"/>
<path d="M344.53 396.04 L339.98 400.82 L343.00 404.06 L337.52 403.57 L334.07 406.59 L333.03 402.79 L327.87 401.42 L332.71 399.56 L332.98 395.69 L337.00 398.34 Z" fill="#2c2c2c"/>
<path d="M344.68 396.52 L340.13 401.31 L343.15 404.54 L337.67 404.05 L334.22 407.07 L333.18 403.27 L328.02 401.90 L332.86 400.04 L333.13 396.18 L337.15 398.83 Z" fill="#2c2c2c"/>
<path d="M343.78 393.62 L339.23 398.41 L342.25 401.64 L336.77 401.15 L333.32 404.17 L332.28 400.37 L327.12 399.00 L331.96 397.14 L332.23 393.28 L336.25 395.93 Z" fill="#fff" stroke="#fff" stroke-width="0.5"/>
<path d="M360.65 396.86 L357.43 400.25 L359.57 402.53 L355.69 402.19 L353.25 404.32 L352.52 401.64 L348.86 400.67 L352.29 399.35 L352.48 396.62 L355.32 398.49 Z" fill="#2c2c2c"/>
<path d="M360.80 397.34 L357.58 400.73 L359.72 403.02 L355.84 402.67 L353.40 404.81 L352.67 402.12 L349.01 401.15 L352.44 399.83 L352.63 397.10 L355.47 398.98 Z" fill="#2c2c2c"/>
<path d="M360.95 397.83 L357.73 401.21 L359.87 403.50 L355.99 403.16 L353.55 405.29 L352.82 402.60 L349.16 401.63 L352.59 400.32 L352.78 397.59 L355.62 399.46 Z" fill="#2c2c2c"/>
<path d="M361.10 398.31 L357.88 401.70 L360.02 403.98 L356.14 403.64 L353.70 405.77 L352.97 403.09 L349.31 402.12 L352.74 400.80 L352.93 398.07 L355.77 399.94 Z" fill="#2c2c2c"/>
<path d="M361.25 398.79 L358.03 402.18 L360.17 404.47 L356.29 404.12 L353.85 406.26 L353.12 403.57 L349.46 402.60 L352.89 401.28 L353.08 398.55 L355.92 400.43 Z" fill="#2c2c2c"/>
<path d="M361.40 399.28 L358.18 402.66 L360.32 404.95 L356.44 404.61 L354.00 406.74 L353.27 404.05 L349.61 403.08 L353.04 401.77 L353.23 399.04 L356.07 400.91 Z" fill="#2c2c2c"/>
<path d="M360.50 396.38 L357.28 399.76 L359.42 402.05 L355.54 401.71 L353.10 403.84 L352.37 401.15 L348.71 400.18 L352.14 398.87 L352.33 396.14 L355.17 398.01 Z" fill="#fff" stroke="#fff" stroke-width="0.5"/>
</g>
<g filter="url(#bl2)">
<text x="304.70" y="431.50" font-family="Liberation Serif, Noto Serif CJK SC, serif" font-weight="bold" font-size="12.5" fill="#7c7c7c" stroke="#7c7c7c" stroke-width="0.7">红</text>
<text x="303.40" y="430.20" font-family="Liberation Serif, Noto Serif CJK SC, serif" font-weight="bold" font-size="12.5" fill="#fff" stroke="#fff" stroke-width="0.9">红</text>
<text x="354.90" y="431.50" font-family="Liberation Serif, Noto Serif CJK SC, serif" font-weight="bold" font-size="12.5" fill="#7c7c7c" stroke="#7c7c7c" stroke-width="0.7">星</text>
<text x="353.60" y="430.20" font-family="Liberation Serif, Noto Serif CJK SC, serif" font-weight="bold" font-size="12.5" fill="#fff" stroke="#fff" stroke-width="0.9">星</text>
<rect x="381" y="394.2" width="45" height="2.0" fill="#bdbdbd"/><rect x="380" y="391.6" width="45" height="2.6" fill="#fff" fill-opacity="0.9"/>
<rect x="441" y="394.2" width="30" height="2.0" fill="#bdbdbd"/><rect x="440" y="391.6" width="30" height="2.6" fill="#fff" fill-opacity="0.9"/>
</g>
<g filter="url(#bl3)" font-family="Liberation Sans, sans-serif" font-weight="bold" font-size="24.8">
<text transform="translate(381.90 421.80) skewX(-7)" fill="#b2b2b2" >0371</text>
<text x="455.3" y="421.8" fill="#b2b2b2" font-style="italic" >6777</text>
<text x="526.3" y="421.8" fill="#b2b2b2" font-style="italic" >2727</text>
<path d="M438.50 414.90 l0.8 -3.4 h15.2 l-0.8 3.4 Z" fill="#b2b2b2"/>
<text transform="translate(380.60 420.50) skewX(-7)" fill="#fff" stroke="#fff" stroke-width="0.5">0371</text>
<text x="454.0" y="420.5" fill="#fff" font-style="italic" stroke="#fff" stroke-width="0.5">6777</text>
<text x="525.0" y="420.5" fill="#fff" font-style="italic" stroke="#fff" stroke-width="0.5">2727</text>
<path d="M437.20 413.60 l0.8 -3.4 h15.2 l-0.8 3.4 Z" fill="#fff"/>
</g>
</g>
</svg>
</body></html>
